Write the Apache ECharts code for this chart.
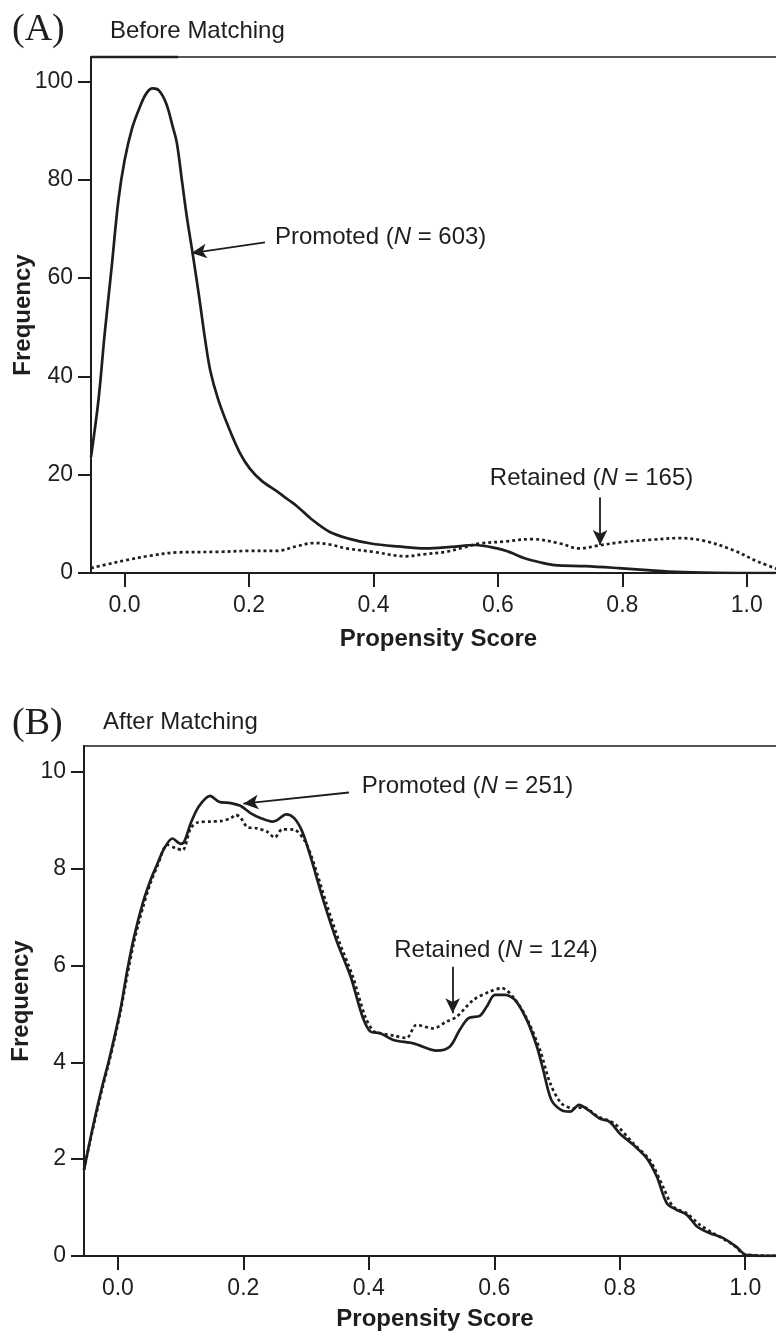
<!DOCTYPE html>
<html>
<head>
<meta charset="utf-8">
<script src="https://cdn.jsdelivr.net/npm/echarts@6/dist/echarts.min.js"></script>
<style>
html,body{margin:0;padding:0;background:#ffffff;}
#chart{width:776px;height:1334px;}
</style>
</head>
<body>
<div id="chart"></div>
<script>
// ---------- data ----------
const xTickValues = [0.0, 0.2, 0.4, 0.6, 0.8, 1.0];
const yTickValuesA = [0, 20, 40, 60, 80, 100];
const yTickValuesB = [0, 2, 4, 6, 8, 10];

// Panel A: Before Matching
const promotedA_x = [-0.054,-0.042,-0.032,-0.021,-0.010,0.000,0.012,0.025,0.035,0.045,0.055,0.067,0.077,0.084,0.092,0.100,0.110,0.120,0.130,0.138,0.150,0.166,0.185,0.201,0.220,0.245,0.262,0.277,0.300,0.329,0.360,0.396,0.440,0.484,0.525,0.563,0.599,0.620,0.643,0.670,0.691,0.740,0.794,0.840,0.874,0.930,1.000,1.063];
const promotedA_y = [23.6,35.2,48.7,62.0,75.8,84.0,90.5,95.0,97.6,98.6,98.2,95.5,91.0,87.5,80.0,72.5,64.5,56.0,47.0,41.0,35.5,30.0,24.5,21.3,18.8,16.6,15.0,13.6,11.0,8.4,7.0,6.0,5.4,5.0,5.3,5.7,5.0,4.2,3.0,2.1,1.6,1.4,1.0,0.6,0.3,0.1,0.0,0.0];

const retainedA_x = [-0.054,-0.020,0.006,0.040,0.086,0.150,0.200,0.245,0.275,0.305,0.330,0.357,0.400,0.452,0.480,0.516,0.545,0.571,0.610,0.655,0.700,0.730,0.762,0.800,0.850,0.890,0.930,0.977,1.020,1.063];
const retainedA_y = [1.0,2.0,2.7,3.5,4.2,4.3,4.5,4.5,5.4,6.1,5.8,5.0,4.3,3.4,3.8,4.3,5.2,6.0,6.4,6.9,6.0,5.0,5.6,6.3,6.8,7.1,6.6,4.7,2.2,0.2];

// Panel B: After Matching
const promotedB_x = [-0.054,-0.045,-0.035,-0.025,-0.015,-0.005,0.005,0.015,0.026,0.040,0.052,0.063,0.074,0.087,0.100,0.106,0.116,0.129,0.147,0.161,0.180,0.196,0.212,0.228,0.246,0.254,0.268,0.281,0.294,0.307,0.329,0.350,0.371,0.390,0.403,0.418,0.439,0.471,0.508,0.529,0.545,0.559,0.577,0.588,0.601,0.617,0.633,0.652,0.668,0.678,0.691,0.707,0.721,0.735,0.750,0.768,0.784,0.800,0.822,0.843,0.859,0.875,0.891,0.907,0.923,0.944,0.965,0.986,1.002,1.065];
const promotedB_y = [1.78,2.35,2.95,3.50,4.00,4.55,5.15,5.90,6.60,7.30,7.76,8.10,8.42,8.62,8.51,8.56,8.93,9.28,9.50,9.38,9.35,9.29,9.14,9.04,8.97,9.00,9.12,9.04,8.76,8.25,7.28,6.46,5.77,4.94,4.63,4.60,4.46,4.39,4.24,4.32,4.67,4.91,4.96,5.15,5.39,5.39,5.29,4.87,4.32,3.84,3.22,3.01,2.98,3.12,3.01,2.84,2.77,2.53,2.29,2.02,1.64,1.09,0.95,0.85,0.61,0.47,0.37,0.19,0.02,0.00];

const retainedB_x = [-0.054,-0.045,-0.035,-0.025,-0.015,-0.005,0.005,0.015,0.026,0.040,0.052,0.063,0.079,0.092,0.103,0.116,0.127,0.148,0.164,0.180,0.188,0.196,0.206,0.222,0.238,0.250,0.262,0.281,0.297,0.310,0.333,0.354,0.375,0.394,0.407,0.418,0.440,0.460,0.476,0.503,0.524,0.540,0.567,0.593,0.612,0.630,0.652,0.673,0.689,0.707,0.726,0.742,0.765,0.791,0.822,0.848,0.869,0.885,0.907,0.928,0.949,0.981,1.000,1.065];
const retainedB_y = [1.78,2.33,2.90,3.45,3.95,4.50,5.10,5.80,6.50,7.20,7.70,8.05,8.49,8.42,8.38,8.83,8.95,8.97,8.98,9.04,9.11,9.04,8.86,8.83,8.76,8.64,8.81,8.80,8.59,8.20,7.25,6.45,5.75,4.95,4.65,4.60,4.55,4.50,4.77,4.70,4.84,4.94,5.29,5.46,5.53,5.35,4.90,4.25,3.57,3.15,3.05,3.07,2.88,2.74,2.32,1.98,1.43,1.02,0.88,0.64,0.47,0.23,0.03,0.00];

// ---------- helpers ----------
function pairs(xs, ys) { return xs.map((x, i) => [x, ys[i]]); }

const INK = '#1e1e1e';
const SANS = '"Liberation Sans", Arial, sans-serif';
const SERIF = '"Liberation Serif", "Times New Roman", serif';

const rich = {
  r: { fontFamily: SANS, fontSize: 24, color: INK },
  it: { fontFamily: SANS, fontSize: 24, color: INK, fontStyle: 'italic' }
};
function annot(coord, pos, label, n) {
  return {
    coord: coord,
    symbol: 'circle', symbolSize: 0,
    itemStyle: { color: 'rgba(0,0,0,0)' },
    label: {
      show: true, position: pos, distance: 0,
      formatter: function () { return '{r|' + label + ' (}{it|N}{r| = ' + n + ')}'; },
      rich: rich
    }
  };
}
function arrow(from, to) {
  return [
    { coord: from, symbol: 'none' },
    { coord: to, symbol: 'arrow', symbolSize: [11, 15] }
  ];
}
const markLineBase = {
  silent: true, animation: false, precision: 4,
  lineStyle: { color: INK, width: 1.8, type: 'solid' },
  label: { show: false }, emphasis: { disabled: true }
};

function xAxisFor(gridIndex, min, max, gap) {
  return {
    type: 'value', gridIndex: gridIndex, min: min, max: max,
    name: 'Propensity Score', nameLocation: 'middle', nameGap: gap, nameMoveOverlap: false,
    nameTextStyle: { fontFamily: SANS, fontSize: 24, fontWeight: 'bold', color: INK },
    axisLine: { show: true, onZero: false, lineStyle: { color: INK, width: 2 } },
    axisTick: { show: true, length: 14, customValues: xTickValues, lineStyle: { color: INK, width: 2 } },
    axisLabel: { show: true, customValues: xTickValues, margin: 21, fontFamily: SANS, fontSize: 23, color: INK,
      formatter: function (v) { return v.toFixed(1); } },
    splitLine: { show: false }
  };
}
function yAxisFor(gridIndex, max, ticks, gap) {
  return {
    type: 'value', gridIndex: gridIndex, min: 0, max: max,
    name: 'Frequency', nameLocation: 'middle', nameGap: gap, nameRotate: 90, nameMoveOverlap: false,
    nameTextStyle: { fontFamily: SANS, fontSize: 24, fontWeight: 'bold', color: INK },
    axisLine: { show: true, onZero: false, lineStyle: { color: INK, width: 2 } },
    axisTick: { show: true, length: 13, customValues: ticks, lineStyle: { color: INK, width: 2 } },
    axisLabel: { show: true, customValues: ticks, margin: 18, fontFamily: SANS, fontSize: 23, color: INK },
    splitLine: { show: false }
  };
}

const solidStyle = { color: INK, width: 2.7, type: 'solid' };
const dottedStyle = { color: INK, width: 2.7, type: [3, 3] };

const option = {
  animation: false,
  backgroundColor: '#ffffff',
  grid: [
    { left: 91, right: -10, top: 57, bottom: 1334 - 573, outerBoundsMode: 'none', containLabel: false,
      show: true, borderColor: '#555', borderWidth: 2, backgroundColor: 'transparent' },
    { left: 84, right: -10, top: 746, bottom: 1334 - 1256, outerBoundsMode: 'none', containLabel: false,
      show: true, borderColor: '#555', borderWidth: 2, backgroundColor: 'transparent' }
  ],
  xAxis: [ xAxisFor(0, -0.054, 1.063, 54), xAxisFor(1, -0.054, 1.065, 51) ],
  yAxis: [ yAxisFor(0, 105, yTickValuesA, 56), yAxisFor(1, 10.53, yTickValuesB, 51) ],
  graphic: [
    { type: 'text', x: 12, y: 30, style: { text: '(A)', font: '38px ' + SERIF, fill: INK, verticalAlign: 'middle' } },
    { type: 'text', x: 110, y: 31, style: { text: 'Before Matching', font: '24px ' + SANS, fill: INK, verticalAlign: 'middle' } },
    { type: 'text', x: 12, y: 724, style: { text: '(B)', font: '38px ' + SERIF, fill: INK, verticalAlign: 'middle' } },
    { type: 'text', x: 103, y: 722, style: { text: 'After Matching', font: '24px ' + SANS, fill: INK, verticalAlign: 'middle' } },
    { type: 'line', shape: { x1: 91, y1: 57, x2: 178, y2: 57 }, style: { stroke: '#222', lineWidth: 2.5 } }
  ],
  series: [
    {
      name: 'Promoted A', type: 'line', xAxisIndex: 0, yAxisIndex: 0,
      data: pairs(promotedA_x, promotedA_y), smooth: 0.35, showSymbol: false, symbol: 'none',
      lineStyle: solidStyle, silent: true,
      markLine: Object.assign({}, markLineBase, { data: [ arrow([0.2256, 67.3], [0.1077, 65.1]) ] }),
      markPoint: { silent: true, animation: false, data: [ annot([0.2416, 68.3], 'right', 'Promoted', 603) ] }
    },
    {
      name: 'Retained A', type: 'line', xAxisIndex: 0, yAxisIndex: 0,
      data: pairs(retainedA_x, retainedA_y), smooth: 0.35, showSymbol: false, symbol: 'none',
      lineStyle: dottedStyle, silent: true,
      markLine: Object.assign({}, markLineBase, { data: [ arrow([0.7642, 15.4], [0.7642, 5.7]) ] }),
      markPoint: { silent: true, animation: false, data: [ annot([0.7505, 19.3], 'inside', 'Retained', 165) ] }
    },
    {
      name: 'Promoted B', type: 'line', xAxisIndex: 1, yAxisIndex: 1,
      data: pairs(promotedB_x, promotedB_y), smooth: 0.3, showSymbol: false, symbol: 'none',
      lineStyle: solidStyle, silent: true,
      markLine: Object.assign({}, markLineBase, { data: [ arrow([0.3684, 9.57], [0.200, 9.34]) ] }),
      markPoint: { silent: true, animation: false, data: [ annot([0.3887, 9.69], 'right', 'Promoted', 251) ] }
    },
    {
      name: 'Retained B', type: 'line', xAxisIndex: 1, yAxisIndex: 1,
      data: pairs(retainedB_x, retainedB_y), smooth: 0.3, showSymbol: false, symbol: 'none',
      lineStyle: dottedStyle, silent: true,
      markLine: Object.assign({}, markLineBase, { data: [ arrow([0.5337, 5.97], [0.5337, 5.01]) ] }),
      markPoint: { silent: true, animation: false, data: [ annot([0.6027, 6.32], 'inside', 'Retained', 124) ] }
    }
  ]
};

const chart = echarts.init(document.getElementById('chart'), null, { renderer: 'canvas', width: 776, height: 1334 });
chart.setOption(option);
</script>
</body>
</html>
